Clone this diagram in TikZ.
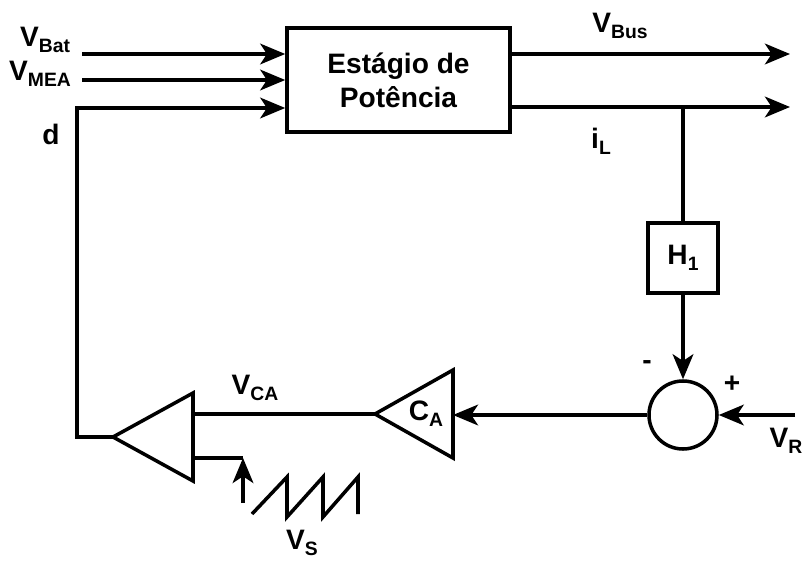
\documentclass[tikz,border=0pt]{standalone}
\usepackage{fontspec}
\setmainfont{Liberation Sans}
\usetikzlibrary{arrows.meta,positioning}

\newcommand{\sig}[2]{#1\raisebox{-5pt}{\fontsize{16.5}{16.5}\selectfont #2}}

\tikzset{
  wire/.style={line width=3pt},
  arr/.style={wire,-{Stealth[length=7.5mm,width=6.2mm,inset=2mm]}},
  blk/.style={draw,line width=3pt,inner sep=0pt},
  lbl/.style={font=\fontsize{24}{28}\selectfont\bfseries,inner sep=0pt},
}

\begin{document}
\begin{tikzpicture}[x=0.03cm,y=-0.03cm]
\useasboundingbox (0,0) rectangle (803,561);
%
\node[blk,minimum width=6.69cm,minimum height=3.12cm,align=center,
  font=\fontsize{24}{29}\selectfont\bfseries] (pw) at (398.5,80) {Estágio de\\Potência};
\node[blk,minimum size=2.1cm,font=\fontsize{24}{28}\selectfont\bfseries] (h1) at (683,258) {\sig{H}{1}};
\node[circle,draw,line width=3pt,minimum size=2.04cm] (sum) at (683,415) {};
%
\coordinate (in1) at (82,54);
\coordinate (in2) at (82,80);
\coordinate (dtop) at (77,108);
\coordinate (dbot) at (77,437);
\coordinate (o1) at (790,54);
\coordinate (o2) at (790,107);
\coordinate (tap) at (683,107);
\coordinate (vr) at (795,415);
%
\coordinate (ca1) at (453,370);
\coordinate (ca2) at (453,458);
\coordinate (catip) at (375,414);
\coordinate (cp1) at (193,393);
\coordinate (cp2) at (193,481);
\coordinate (cptip) at (113,437);
\coordinate (rin) at (193,458);
\coordinate (rc) at (243,458);
\coordinate (rb) at (243,503);
%
\draw[arr] (in1) -- (in1 -| pw.west);
\draw[arr] (in2) -- (in2 -| pw.west);
\draw[arr] (o1 -| pw.east) -- (o1);
\draw[arr] (o2 -| pw.east) -- (o2);
\draw[wire] (tap) -- (h1.north);
\draw[arr] (h1.south) -- (sum.north);
\draw[arr] (vr) -- (sum.east);
%
\draw[wire,line join=miter] (ca1) -- (ca2) -- (catip) -- cycle;
\draw[wire,line join=miter] (cp1) -- (cp2) -- (cptip) -- cycle;
\draw[arr] (sum.west) -- (sum.west -| ca1);
\draw[wire] (catip) -- (catip -| cp1);
\draw[wire] (rin) -- (rc);
\draw[arr] (rb) -- (rc);
\draw[arr] (cptip) -- (dbot) -- (dtop) -- (dtop -| pw.west);
%
\draw[wire] (252,514) -- (287,477) -- (287,517) -- (323,477) -- (323,517)
  -- (358,477) -- (358,514);
%
\node[lbl] (vbat) at (45,40) {\sig{V}{Bat}};
\node[lbl] (vmea) at (40,74) {\sig{V}{MEA}};
\node[lbl] (dl) at (51,134) {d};
\node[lbl] (vbus) at (620,26) {\sig{V}{Bus}};
\node[lbl] (il) at (601,141) {\sig{i}{L}};
\node[lbl] (minus) at (647,365) {-};
\node[lbl] (plus) at (732,384) {+};
\node[lbl] (vrl) at (786,441) {\sig{V}{R}};
\node[lbl] (cal) at (426,414) {\sig{C}{A}};
\node[lbl] (vca) at (255,388) {\sig{V}{CA}};
\node[lbl] (vsl) at (302,543) {\sig{V}{S}};
\end{tikzpicture}
\end{document}
